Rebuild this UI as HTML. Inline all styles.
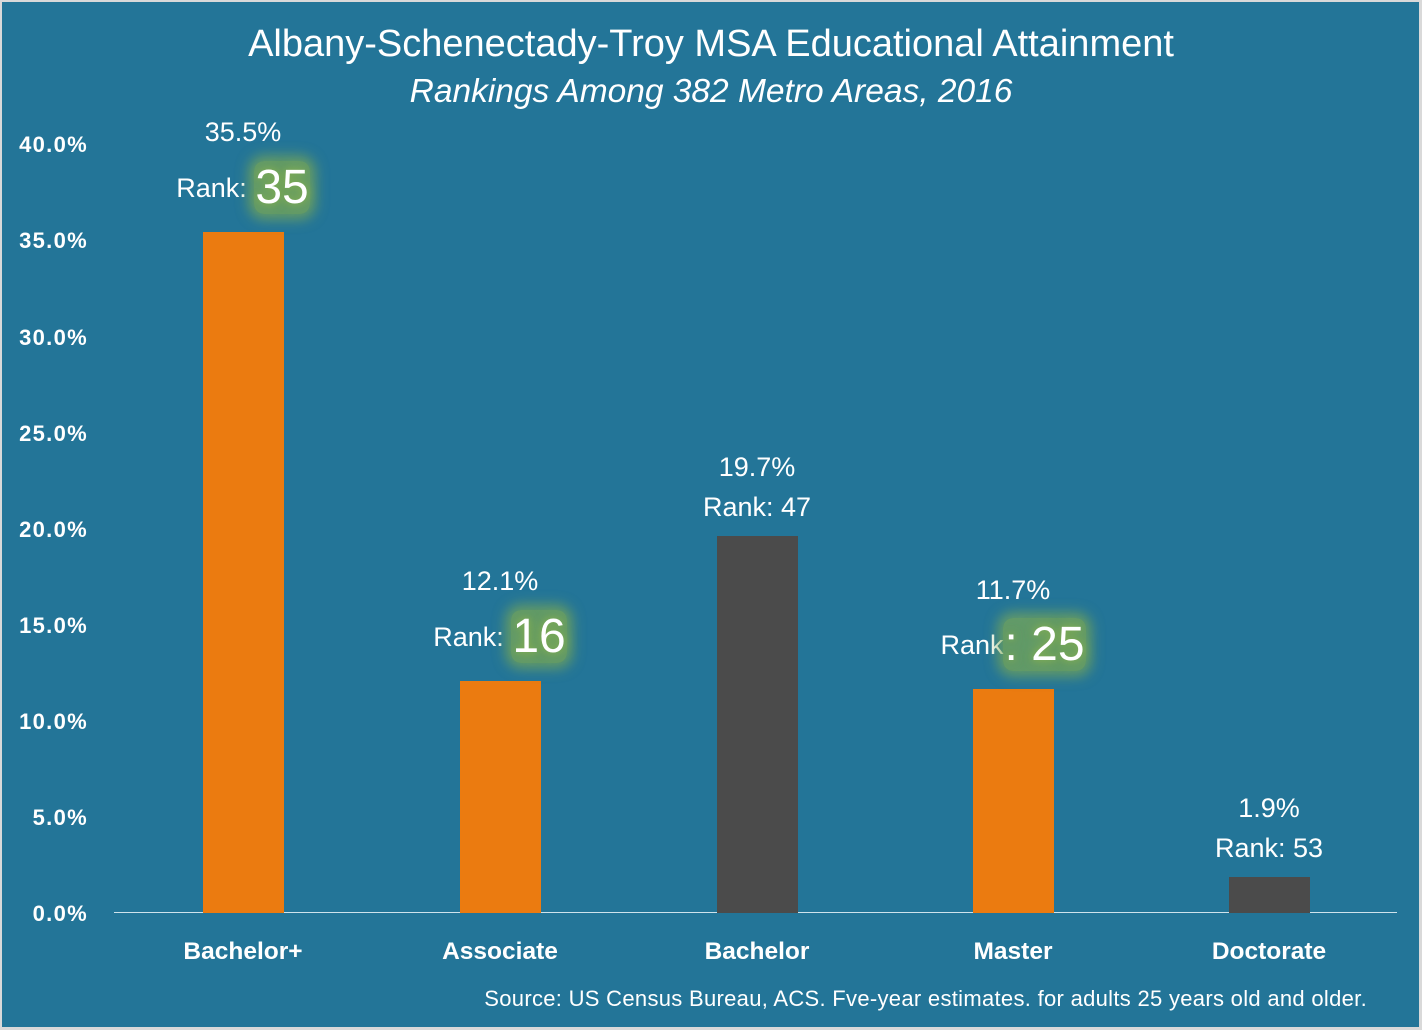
<!DOCTYPE html>
<html><head><meta charset="utf-8"><style>
html,body{margin:0;padding:0}
body{width:1422px;height:1030px;background:#d9d9d9;position:relative;overflow:hidden;font-family:"Liberation Sans",sans-serif;color:#fff}
#c{position:absolute;left:2px;top:2px;width:1417px;height:1025px;background:#237598}
.t{position:absolute;white-space:nowrap;line-height:1}
.y{position:absolute;right:1334px;font-weight:bold;font-size:22px;letter-spacing:1.3px;line-height:1}
.bar{position:absolute;width:81px}
.o{background:#eb7b10}.g{background:#4b4b4b}
.cat{position:absolute;width:200px;text-align:center;font-weight:bold;font-size:24.5px;top:938px}
.lab{position:absolute;width:240px;text-align:center;font-size:27px;line-height:1}
.big{font-size:48px;text-shadow:0 0 6px #7daa55,0 0 10px #7daa55,0 0 14px #7daa55;background:rgba(125,170,85,0.7);box-shadow:0 0 12px 6px rgba(125,170,85,0.7);border-radius:10px;padding:0 1px}
</style></head><body>
<div id="c"></div>
<div class="t" style="left:0;width:1422px;text-align:center;top:25px;font-size:38px">Albany-Schenectady-Troy MSA Educational Attainment</div>
<div class="t" style="left:0;width:1422px;text-align:center;top:75px;font-size:33.5px;font-style:italic">Rankings Among 382 Metro Areas, 2016</div>

<div class="y" style="top:134px">40.0%</div>
<div class="y" style="top:230px">35.0%</div>
<div class="y" style="top:327px">30.0%</div>
<div class="y" style="top:423px">25.0%</div>
<div class="y" style="top:519px">20.0%</div>
<div class="y" style="top:615px">15.0%</div>
<div class="y" style="top:711px">10.0%</div>
<div class="y" style="top:807px">5.0%</div>
<div class="y" style="top:903px">0.0%</div>

<div style="position:absolute;left:114px;top:912px;width:1283px;height:1px;background:#cfe3ec"></div>

<div class="bar o" style="left:203px;top:232px;height:681px"></div>
<div class="bar o" style="left:460px;top:681px;height:232px"></div>
<div class="bar g" style="left:717px;top:536px;height:377px"></div>
<div class="bar o" style="left:973px;top:689px;height:224px"></div>
<div class="bar g" style="left:1229px;top:877px;height:36px"></div>

<div class="lab" style="left:123px;top:119px">35.5%</div>
<div class="lab" style="left:123px;top:164px"><span style="vertical-align:6px">Rank: </span><span class="big">35</span></div>
<div class="lab" style="left:380px;top:568px">12.1%</div>
<div class="lab" style="left:380px;top:613px"><span style="vertical-align:6px">Rank: </span><span class="big">16</span></div>
<div class="lab" style="left:637px;top:454px">19.7%</div>
<div class="lab" style="left:637px;top:494px">Rank: 47</div>
<div class="lab" style="left:893px;top:577px">11.7%</div>
<div class="lab" style="left:893px;top:621px"><span style="vertical-align:6px">Rank</span><span class="big">: 25</span></div>
<div class="lab" style="left:1149px;top:795px">1.9%</div>
<div class="lab" style="left:1149px;top:835px">Rank: 53</div>

<div class="cat" style="left:143px">Bachelor+</div>
<div class="cat" style="left:400px">Associate</div>
<div class="cat" style="left:657px">Bachelor</div>
<div class="cat" style="left:913px">Master</div>
<div class="cat" style="left:1169px">Doctorate</div>

<div class="t" style="right:55px;top:988px;font-size:22px;letter-spacing:0.3px">Source: US Census Bureau, ACS. Fve-year estimates. for adults 25 years old and older.</div>
</body></html>
